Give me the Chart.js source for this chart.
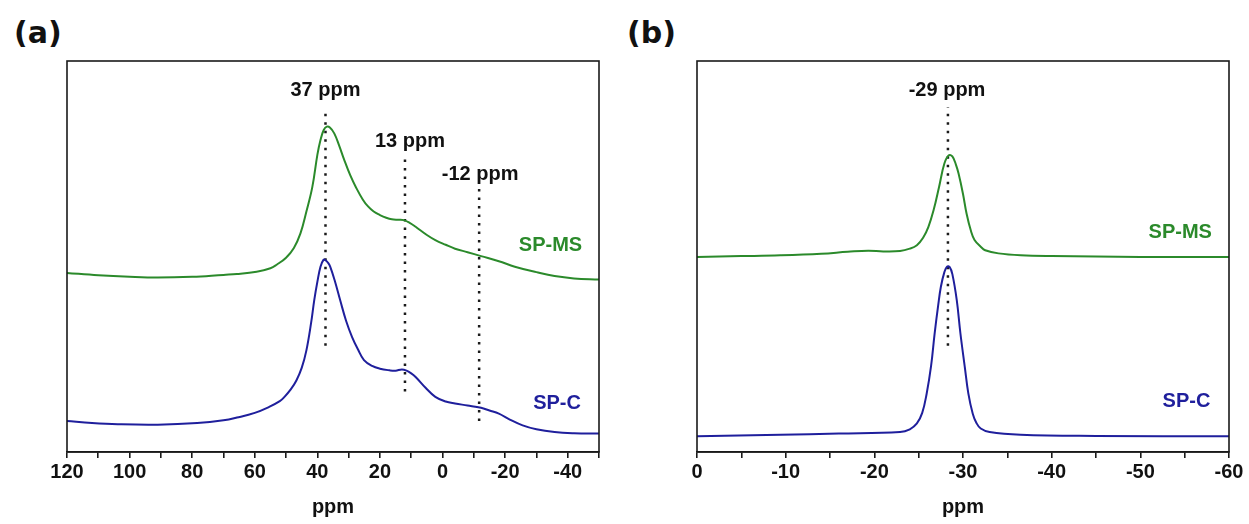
<!DOCTYPE html>
<html>
<head>
<meta charset="utf-8">
<script src="https://cdn.jsdelivr.net/npm/chart.js@4"></script>
<style>
    body { margin: 0; background: #fff; width: 1249px; height: 524px; overflow: hidden; position: relative; }
    .panel { position: absolute; top: 0; height: 524px; }
    #panelA { left: 0; width: 624px; }
    #panelB { left: 624px; width: 625px; }
    .tag { position: absolute; top: 18px; font: bold 30px "DejaVu Sans", "Noto Sans", sans-serif; color: #111; line-height: 1; }
</style>
</head>
<body>
<div class="tag" style="left:14px">(a)</div>
<div class="tag" style="left:627px">(b)</div>
<div class="panel" id="panelA"><canvas id="chartA"></canvas></div>
<div class="panel" id="panelB"><canvas id="chartB"></canvas></div>

<script>
// panel (a) - 13C spectra
const aMsPpm = [120, 110, 100, 91, 80, 70, 65.7, 59.4, 55, 53, 50, 47.5, 45.4, 43.5, 41.6, 40, 39, 38, 37, 36, 34.6, 33, 31.5, 29.5, 27.6, 25.5, 23.8, 22, 20, 18, 16.2, 14, 12.4, 10.5, 8.6, 5, 2.3, -1, -4, -8, -12.3, -18, -23.1, -30, -35.8, -42, -50];
const aMsVal = [45.8, 45.2, 44.8, 44.6, 44.8, 45.3, 45.5, 46.1, 47.0, 47.9, 49.7, 52.2, 55.9, 61.5, 67.8, 76.0, 79.8, 82.3, 83.2, 83.0, 81.5, 78.3, 74.9, 70.8, 67.6, 64.6, 62.8, 61.5, 60.6, 59.9, 59.5, 59.4, 59.3, 58.6, 57.6, 55.5, 54.2, 53.0, 52.0, 51.1, 50.1, 48.8, 47.4, 46.0, 45.0, 44.4, 44.1];
const aCPpm = [120, 112, 103.8, 91, 78.4, 70, 65.7, 60, 55.5, 52, 50.5, 48.5, 46.7, 45, 43.5, 42, 41, 40, 39, 38, 37.5, 36.5, 35.9, 34.5, 32.7, 30.8, 28.9, 27, 25.1, 22.5, 20, 17, 15, 13, 11.5, 10, 8.6, 5.5, 2.3, -1, -4, -8, -12.3, -15, -18, -21.5, -25.6, -30, -35.8, -42, -50];
const aCVal = [7.9, 7.4, 7.1, 7.0, 7.4, 8.1, 8.8, 10.0, 11.5, 13.0, 14.1, 16.0, 18.3, 21.5, 26.0, 33.0, 38.8, 43.5, 47.4, 49.2, 49.1, 48.3, 47.4, 44.0, 38.8, 33.5, 29.4, 26.2, 23.5, 22.0, 21.3, 20.9, 20.8, 21.1, 20.8, 20.1, 19.2, 16.5, 14.1, 12.9, 12.4, 11.9, 11.3, 10.6, 9.8, 8.3, 6.8, 5.8, 5.1, 4.8, 4.7];
const aTickLabels = [120, 100, 80, 60, 40, 20, 0, -20, -40];
const aMarkPpm = [37.4, 12.0, -11.7];
const aMarkTop = [88.0, 75.5, 67.9];
const aMarkBottom = [27.2, 15.5, 7.9];
const aMarkText = ['37 ppm', '13 ppm', '-12 ppm'];
const aMarkTextPpm = [37.4, 10.4, -12.0];
const aMarkTextVal = [92.5, 79.3, 70.9];

// panel (b) - 29Si spectra
const bMsPpm = [0, -5, -9.4, -14, -17, -19.3, -21, -22.9, -24, -24.8, -25.5, -26.1, -26.7, -27.3, -27.9, -28.4, -28.8, -29.2, -29.5, -30, -30.4, -30.9, -31.3, -32, -32.5, -34, -36.5, -40, -50, -60];
const bMsVal = [49.9, 50.1, 50.3, 50.7, 51.2, 51.5, 51.3, 51.4, 52.0, 52.9, 54.8, 57.6, 62.0, 67.8, 73.8, 75.9, 75.6, 73.5, 71.2, 66.0, 61.0, 56.5, 54.2, 52.5, 51.6, 50.8, 50.3, 50.1, 49.9, 49.9];
const bCPpm = [0, -9.4, -16, -22.9, -24, -24.8, -25.4, -25.9, -26.4, -26.8, -27.2, -27.5, -27.9, -28.2, -28.5, -28.8, -29.3, -29.7, -30.2, -30.6, -31.1, -31.5, -32, -33, -36.5, -45, -60];
const bCVal = [4.0, 4.4, 4.7, 5.1, 5.8, 7.3, 10.0, 14.9, 22.0, 30.3, 37.5, 42.2, 46.0, 47.4, 47.3, 45.5, 38.8, 30.5, 21.8, 15.0, 9.8, 7.5, 6.0, 5.1, 4.4, 4.1, 4.0];
const bTickLabels = [0, -10, -20, -30, -40, -50, -60];
const bMarkPpm = [-28.3];
const bMarkTop = [88.2];
const bMarkBottom = [27.2];
const bMarkText = ['-29 ppm'];
const bMarkTextPpm = [-28.2];
const bMarkTextVal = [92.5];

const seriesNames = ['SP-MS', 'SP-C'];
const aNamePpm = [-34.5, -36.6];
const aNameVal = [52.7, 12.5];
const bNamePpm = [-54.5, -55.2];
const bNameVal = [56.2, 13.0];

const GREEN = '#2b8a2b';
const BLUE = '#1f1f9c';
const FONT = '"Liberation Sans", Arial, sans-serif';

function pts(xs, ys) {
    return xs.map((x, i) => ({ x: x, y: ys[i] }));
}

function curve(xs, ys, color) {
    return {
        data: pts(xs, ys),
        borderColor: color,
        borderWidth: 2,
        pointRadius: 0,
        tension: 0.4,
        fill: false
    };
}

function markLines(ppm, top, bottom) {
    return ppm.map((p, i) => ({
        data: [{ x: p, y: bottom[i] }, { x: p, y: top[i] }],
        borderColor: '#1a1a1a',
        borderWidth: 2.5,
        borderDash: [2.5, 6],
        borderCapStyle: 'butt',
        pointRadius: 0
    }));
}

// frame box + text labels, positioned through the chart scales
const labelPlugin = {
    id: 'labels',
    afterDraw(chart, args, opts) {
        const { ctx, chartArea: a, scales } = chart;
        ctx.save();
        ctx.strokeStyle = '#1a1a1a';
        ctx.lineWidth = 1.6;
        ctx.strokeRect(a.left, a.top, a.right - a.left, a.bottom - a.top);
        ctx.font = 'bold 20px ' + FONT;
        ctx.textAlign = 'center';
        ctx.textBaseline = 'middle';
        opts.texts.forEach(t => {
            ctx.fillStyle = t.color;
            ctx.fillText(t.text, scales.x.getPixelForValue(t.x), scales.y.getPixelForValue(t.y));
        });
        ctx.restore();
    }
};

function makeChart(id, cfg) {
    const texts = [];
    cfg.markText.forEach((s, i) => texts.push({ text: s, x: cfg.markTextPpm[i], y: cfg.markTextVal[i], color: '#111' }));
    texts.push({ text: seriesNames[0], x: cfg.namePpm[0], y: cfg.nameVal[0], color: GREEN });
    texts.push({ text: seriesNames[1], x: cfg.namePpm[1], y: cfg.nameVal[1], color: BLUE });

    return new Chart(document.getElementById(id), {
        type: 'line',
        data: {
            datasets: [
                curve(cfg.msPpm, cfg.msVal, GREEN),
                curve(cfg.cPpm, cfg.cVal, BLUE),
                ...markLines(cfg.markPpm, cfg.markTop, cfg.markBottom)
            ]
        },
        options: {
            responsive: true,
            maintainAspectRatio: false,
            animation: false,
            events: [],
            layout: { padding: cfg.padding },
            plugins: {
                legend: { display: false },
                tooltip: { enabled: false },
                labels: { texts: texts }
            },
            scales: {
                x: {
                    type: 'linear',
                    reverse: true,
                    min: cfg.min,
                    max: cfg.max,
                    border: { display: true, color: '#1a1a1a', width: 1.6 },
                    grid: { drawOnChartArea: false, drawTicks: true, tickLength: 6, color: '#1a1a1a', lineWidth: 1.6 },
                    ticks: {
                        stepSize: cfg.step,
                        autoSkip: false,
                        maxRotation: 0,
                        padding: 2,
                        color: '#111',
                        font: { family: FONT, size: 20, weight: 'bold' },
                        callback: v => cfg.tickLabels.includes(v) ? String(v) : ''
                    },
                    title: {
                        display: true,
                        text: 'ppm',
                        color: '#111',
                        padding: { top: 9, bottom: 0 },
                        font: { family: FONT, size: 20, weight: 'bold' }
                    }
                },
                y: { display: false, min: 0, max: 100 }
            }
        },
        plugins: [labelPlugin]
    });
}

makeChart('chartA', {
    msPpm: aMsPpm, msVal: aMsVal, cPpm: aCPpm, cVal: aCVal,
    markPpm: aMarkPpm, markTop: aMarkTop, markBottom: aMarkBottom,
    markText: aMarkText, markTextPpm: aMarkTextPpm, markTextVal: aMarkTextVal,
    namePpm: aNamePpm, nameVal: aNameVal,
    tickLabels: aTickLabels, min: -50, max: 120, step: 10,
    padding: { left: 67, right: 25, top: 61, bottom: 5 }
});

makeChart('chartB', {
    msPpm: bMsPpm, msVal: bMsVal, cPpm: bCPpm, cVal: bCVal,
    markPpm: bMarkPpm, markTop: bMarkTop, markBottom: bMarkBottom,
    markText: bMarkText, markTextPpm: bMarkTextPpm, markTextVal: bMarkTextVal,
    namePpm: bNamePpm, nameVal: bNameVal,
    tickLabels: bTickLabels, min: -60, max: 0, step: 5,
    padding: { left: 73, right: 20, top: 61, bottom: 5 }
});
</script>
</body>
</html>
